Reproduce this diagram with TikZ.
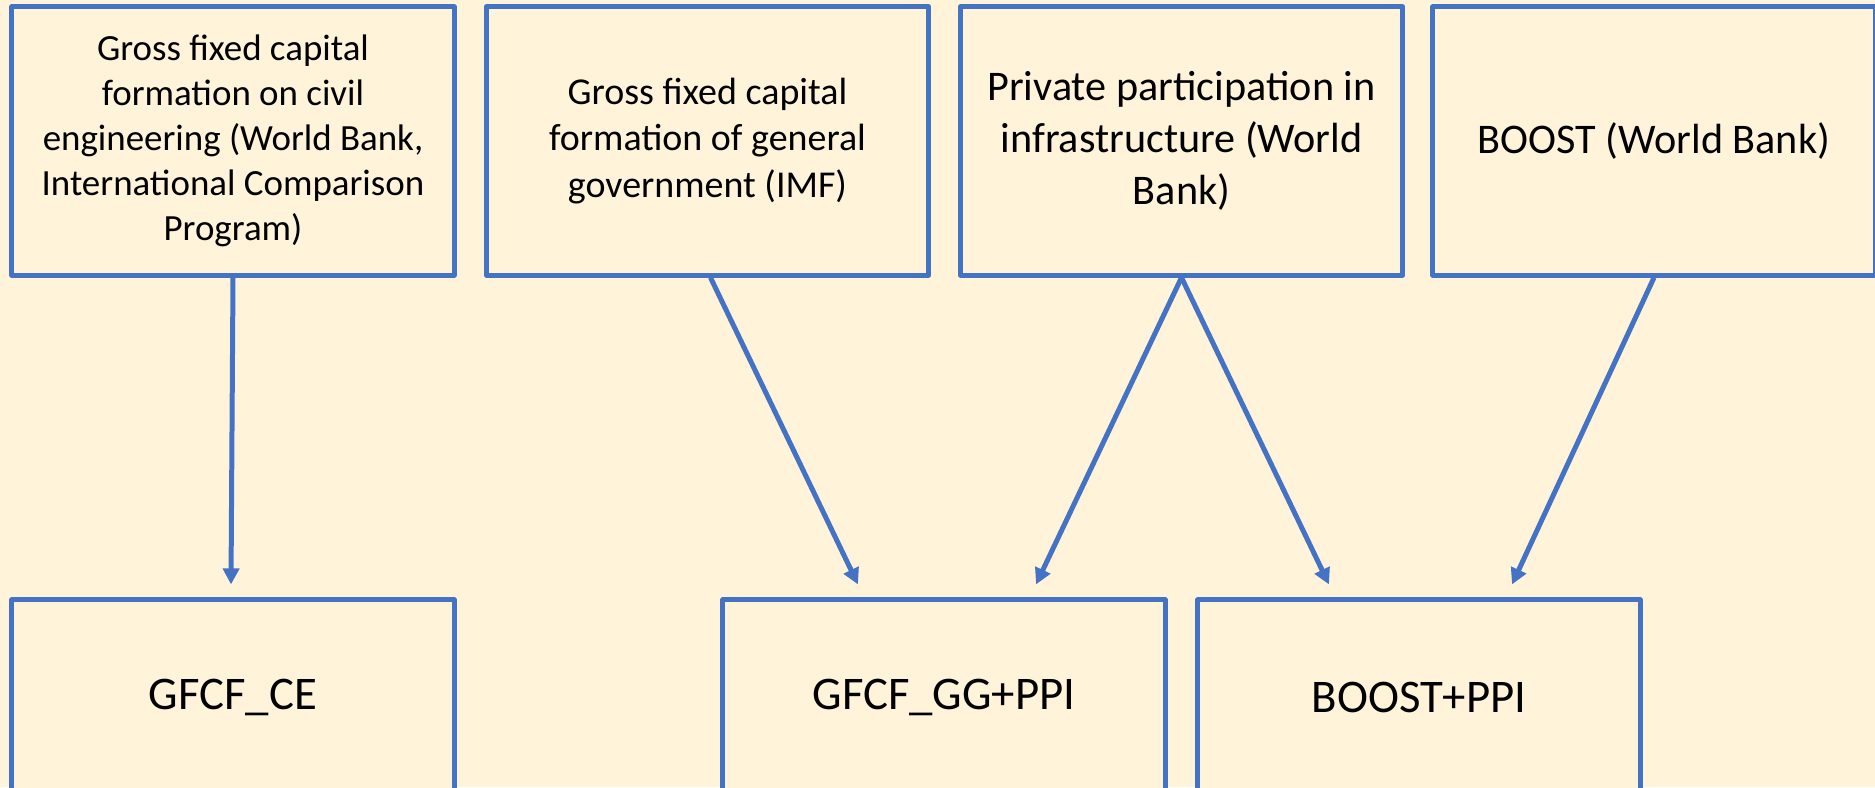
\documentclass[tikz,border=0pt]{standalone}
\usepackage{fontspec}
\setmainfont{Carlito}
\usetikzlibrary{arrows.meta,calc}
\definecolor{paper}{HTML}{FFF4DA}
\definecolor{edge}{HTML}{4472C4}
\begin{document}
\begin{tikzpicture}[x=0.01cm,y=0.01cm,
  srcbox/.style={draw=edge, line width=1.42pt, line join=round, fill=paper,
    minimum width=4.42cm, minimum height=2.68cm, align=center, inner sep=0pt},
  outbox/.style={draw=edge, line width=1.42pt, line join=round, fill=paper,
    minimum width=4.42cm, minimum height=1.94cm, inner sep=0pt,
    font=\fontsize{13.3pt}{16pt}\selectfont},
  link/.style={draw=edge, line width=1.42pt,
    -{Triangle[length=0.16cm,width=0.16cm]}}]
\useasboundingbox (0,0) rectangle (1875,787);
\fill[paper] (0,0) rectangle (1875,787);
\begin{scope}
\clip (0,0) rectangle (1875,787);
% data sources
\node[srcbox, font=\fontsize{10.5pt}{12.8pt}\selectfont] (b1) at (233,646)
  {Gross fixed capital\\formation on civil\\engineering (World Bank,\\International Comparison\\Program)};
\node[srcbox, font=\fontsize{10.8pt}{13.3pt}\selectfont] (b2) at (707.5,646)
  {Gross fixed capital\\formation of general\\government (IMF)};
\node[srcbox, font=\fontsize{12pt}{14.7pt}\selectfont] (b3) at (1181.5,646)
  {Private participation in\\infrastructure (World\\Bank)};
\node[srcbox, font=\fontsize{12pt}{14.7pt}\selectfont] (b4) at (1654,646)
  {BOOST (World Bank)};
% derived measures
\node[outbox] (o1) at (233,90) {GFCF\_CE};
\node[outbox] (o2) at (944,90) {GFCF\_GG+PPI};
\node[outbox] (o3) at (1419,90) {BOOST+PPI};
% links
\draw[link] (b1.south) -- ($(o1.north)+(-2,13)$);
\draw[link] ($(b2.south)+(3,0)$) -- ($(o2.north)+(-86,13)$);
\draw[link] (b3.south) -- ($(o2.north)+(92,13)$);
\draw[link] (b3.south) -- ($(o3.north)+(-90,13)$);
\draw[link] (b4.south) -- ($(o3.north)+(93,13)$);
\end{scope}
\end{tikzpicture}
\end{document}
